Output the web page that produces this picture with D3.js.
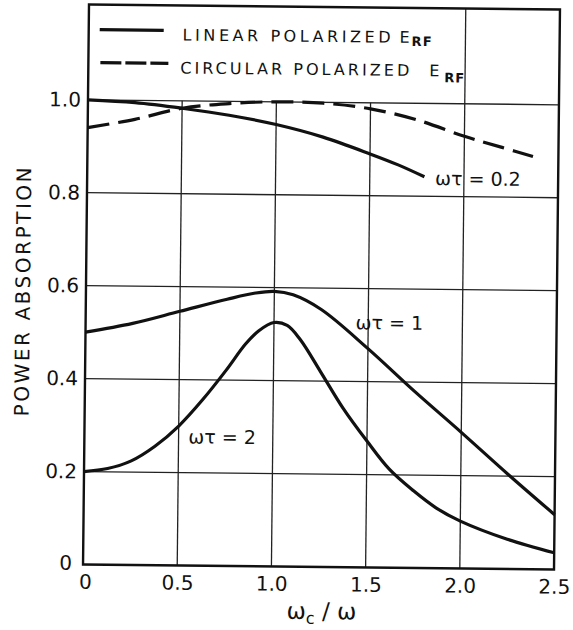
<!DOCTYPE html>
<html>
<head>
<meta charset="utf-8">
<title>power absorption</title>
<script src="https://d3js.org/d3.v7.min.js"></script>
<style>
body { margin: 0; background: #fff; }
svg text { font-family: "DejaVu Sans", sans-serif; fill: #111; }
</style>
</head>
<body>
<script>
// values (x = wc/w, y = power absorption)
var lin02X = [0, 0.25, 0.5, 0.75, 1.0, 1.25, 1.5, 1.65, 1.79];
var lin02Y = [1.0, 0.995, 0.984, 0.97, 0.951, 0.925, 0.89, 0.867, 0.842];

var circ02X = [0, 0.25, 0.5, 0.75, 1.0, 1.25, 1.5, 1.75, 2.0, 2.2, 2.365];
var circ02Y = [0.94, 0.959, 0.984, 0.995, 1.0, 0.998, 0.987, 0.964, 0.93, 0.907, 0.888];

var lin1X = [0, 0.25, 0.5, 0.75, 0.9, 1.0, 1.1, 1.25, 1.5, 1.75, 2.0, 2.25, 2.5];
var lin1Y = [0.5, 0.52, 0.547, 0.574, 0.588, 0.592, 0.585, 0.554, 0.471, 0.38, 0.293, 0.204, 0.118];

var lin2X = [0, 0.125, 0.25, 0.375, 0.5, 0.625, 0.75, 0.85, 0.92, 1.0, 1.07, 1.14, 1.25, 1.37, 1.5, 1.62, 1.75, 1.87, 2.0, 2.25, 2.5];
var lin2Y = [0.2, 0.207, 0.224, 0.256, 0.3, 0.357, 0.422, 0.478, 0.507, 0.525, 0.519, 0.489, 0.42, 0.343, 0.272, 0.212, 0.166, 0.13, 0.102, 0.064, 0.036];

var xTicks = [0, 0.5, 1.0, 1.5, 2.0, 2.5];
var xTickLabels = ["0", "0.5", "1.0", "1.5", "2.0", "2.5"];
var yTicks = [0, 0.2, 0.4, 0.6, 0.8, 1.0];
var yTickLabels = ["0", "0.2", "0.4", "0.6", "0.8", "1.0"];

var w = 573, h = 630;

var x = d3.scaleLinear().domain([0, 2.5]).range([86, 557]);
var y = d3.scaleLinear().domain([0, 1.205]).range([567, 7]);

var svg = d3.select("body").append("svg")
    .attr("width", w)
    .attr("height", h);

// the scan sits a little crooked, so tilt the whole drawing
var g = svg.append("g").attr("transform", "rotate(0.61,321,287)");

// grid
g.selectAll(".hgrid")
  .data(yTicks.filter(d => d > 0))
  .enter().append("line")
    .attr("x1", x(0)).attr("x2", x(2.5))
    .attr("y1", d => y(d)).attr("y2", d => y(d))
    .attr("stroke", "#222").attr("stroke-width", 1.3);

g.selectAll(".vgrid")
  .data([0.5, 1.0, 1.5, 2.0])
  .enter().append("line")
    .attr("x1", d => x(d)).attr("x2", d => x(d))
    .attr("y1", y(0))
    .attr("y2", d => d < 2 ? y(1.0) : y(1.205))   // legend box hides the upper part
    .attr("stroke", "#222").attr("stroke-width", 1.3);

// frame
g.append("rect")
  .attr("x", x(0)).attr("y", y(1.205))
  .attr("width", x(2.5) - x(0)).attr("height", y(0) - y(1.205))
  .attr("fill", "none").attr("stroke", "#111").attr("stroke-width", 2.4);

// axes (labels only)
var xAxis = d3.axisBottom(x).tickValues(xTicks)
  .tickFormat((d, i) => xTickLabels[i]).tickSize(0).tickPadding(10);
var yAxis = d3.axisLeft(y).tickValues(yTicks)
  .tickFormat((d, i) => yTickLabels[i]).tickSize(0).tickPadding(7);

var gx = g.append("g").attr("transform", "translate(0," + y(0) + ")").call(xAxis);
var gy = g.append("g").attr("transform", "translate(" + x(0) + ",0)").call(yAxis);
gx.select(".domain").remove();
gy.select(".domain").remove();
gx.selectAll("text").style("font-size", "20px").style("font-family", "DejaVu Sans").attr("fill", "#111");
gy.selectAll("text").style("font-size", "20px").style("font-family", "DejaVu Sans").attr("fill", "#111");
gy.selectAll("text").filter(d => d === 0).attr("dx", -4).attr("dy", "0.25em");
gx.selectAll("text").filter(d => d === 0).attr("dx", 2);

// curves
var line = d3.line()
  .x(d => x(d[0]))
  .y(d => y(d[1]))
  .curve(d3.curveCatmullRom.alpha(0.5));

function pts(xs, ys) { return xs.map((v, i) => [v, ys[i]]); }

var series = [
  { data: pts(lin02X, lin02Y), dash: null },
  { data: pts(circ02X, circ02Y), dash: "22,9" },
  { data: pts(lin1X, lin1Y), dash: null },
  { data: pts(lin2X, lin2Y), dash: null }
];

g.selectAll(".curve")
  .data(series)
  .enter().append("path")
    .attr("d", d => line(d.data))
    .attr("fill", "none")
    .attr("stroke", "#111")
    .attr("stroke-width", 3.2)
    .attr("stroke-dasharray", d => d.dash);

// curve labels
var notes = [
  { t: "ωτ = 0.2", x: 434, y: 177 },
  { t: "ωτ = 1", x: 356, y: 322 },
  { t: "ωτ = 2", x: 190, y: 438 }
];
g.selectAll(".note")
  .data(notes)
  .enter().append("text")
    .attr("x", d => d.x).attr("y", d => d.y)
    .attr("dy", "0.36em")
    .style("font-size", "19px")
    .text(d => d.t);

// legend
g.append("line")
  .attr("x1", 97).attr("x2", 161).attr("y1", 32).attr("y2", 32)
  .attr("stroke", "#111").attr("stroke-width", 3.2);
g.append("line")
  .attr("x1", 98).attr("x2", 166).attr("y1", 65).attr("y2", 65)
  .attr("stroke", "#111").attr("stroke-width", 3.2)
  .attr("stroke-dasharray", "21,4");

var leg1 = g.append("text").attr("y", 42).style("font-size", "16px");
leg1.append("tspan").attr("x", 180).attr("textLength", 208).attr("lengthAdjust", "spacing").text("LINEAR POLARIZED");
leg1.append("tspan").attr("x", 397).text("E");
leg1.append("tspan").attr("x", 409).attr("dy", 3).style("font-size", "13px").style("font-weight", "bold").attr("textLength", 20).text("RF");

var leg2 = g.append("text").attr("y", 75).style("font-size", "16px");
leg2.append("tspan").attr("x", 178).attr("textLength", 229).attr("lengthAdjust", "spacing").text("CIRCULAR POLARIZED");
leg2.append("tspan").attr("x", 427).text("E");
leg2.append("tspan").attr("x", 442).attr("dy", 6).style("font-size", "13px").style("font-weight", "bold").attr("textLength", 20).text("RF");

// axis titles
g.append("text")
  .attr("transform", "translate(30,295) rotate(-90)")
  .attr("text-anchor", "middle")
  .attr("textLength", 249).attr("lengthAdjust", "spacing")
  .style("font-size", "20px")
  .text("POWER ABSORPTION");

var xt = g.append("text")
  .attr("x", 325).attr("y", 619)
  .attr("text-anchor", "middle")
  .style("font-size", "23px");
xt.append("tspan").text("ω");
xt.append("tspan").attr("dy", 5).style("font-size", "16px").text("c");
xt.append("tspan").attr("dy", -5).text(" / ω");
</script>
</body>
</html>
